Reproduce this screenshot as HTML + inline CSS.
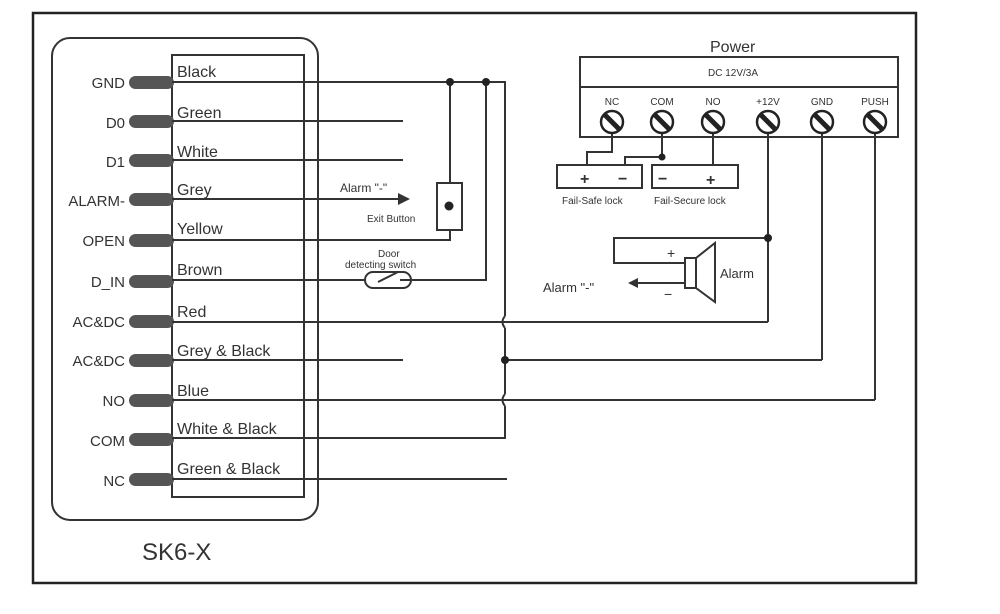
<!DOCTYPE html>
<html><head><meta charset="utf-8"><style>
html,body{margin:0;padding:0;background:#fff}
svg{display:block}
text{font-family:"Liberation Sans",Arial,sans-serif;fill:#333}
</style></head><body>
<svg width="1000" height="614" viewBox="0 0 1000 614" xmlns="http://www.w3.org/2000/svg">
<rect x="33" y="13" width="883" height="570" fill="none" stroke="#222" stroke-width="2.5"/>
<rect x="52" y="38" width="266" height="482" rx="18" fill="none" stroke="#333" stroke-width="2"/>
<rect x="172" y="55" width="132" height="442" fill="none" stroke="#333" stroke-width="2"/>
<g fill="#555">
<rect x="129" y="76" width="45" height="13" rx="6.5"/>
<rect x="129" y="115" width="45" height="13" rx="6.5"/>
<rect x="129" y="154" width="45" height="13" rx="6.5"/>
<rect x="129" y="193" width="45" height="13" rx="6.5"/>
<rect x="129" y="234" width="45" height="13" rx="6.5"/>
<rect x="129" y="275" width="45" height="13" rx="6.5"/>
<rect x="129" y="315" width="45" height="13" rx="6.5"/>
<rect x="129" y="354" width="45" height="13" rx="6.5"/>
<rect x="129" y="394" width="45" height="13" rx="6.5"/>
<rect x="129" y="433" width="45" height="13" rx="6.5"/>
<rect x="129" y="473" width="45" height="13" rx="6.5"/>
</g>
<g font-size="15" text-anchor="end">
<text x="125" y="88">GND</text>
<text x="125" y="128">D0</text>
<text x="125" y="167">D1</text>
<text x="125" y="206">ALARM-</text>
<text x="125" y="246">OPEN</text>
<text x="125" y="287">D_IN</text>
<text x="125" y="327">AC&amp;DC</text>
<text x="125" y="366">AC&amp;DC</text>
<text x="125" y="406">NO</text>
<text x="125" y="446">COM</text>
<text x="125" y="486">NC</text>
</g>
<g font-size="16">
<text x="177" y="77">Black</text>
<text x="177" y="118">Green</text>
<text x="177" y="157">White</text>
<text x="177" y="195">Grey</text>
<text x="177" y="234">Yellow</text>
<text x="177" y="275">Brown</text>
<text x="177" y="317">Red</text>
<text x="177" y="356">Grey &amp; Black</text>
<text x="177" y="396">Blue</text>
<text x="177" y="434">White &amp; Black</text>
<text x="177" y="474">Green &amp; Black</text>
</g>
<text x="142" y="560" font-size="24">SK6-X</text>
<g fill="none" stroke="#333" stroke-width="2">
<polyline points="172,82 505,82 505,316"/>
<path d="M505,316 q-5,6 0,12"/>
<polyline points="505,328 505,394"/>
<path d="M505,394 q-5,6 0,12"/>
<polyline points="505,406 505,438 172,438"/>
<line x1="172" y1="121" x2="403" y2="121"/>
<line x1="172" y1="160" x2="403" y2="160"/>
<line x1="172" y1="199" x2="398" y2="199"/>
<polyline points="172,240 450,240 450,230"/>
<rect x="437" y="183" width="25" height="47"/>
<line x1="450" y1="82" x2="450" y2="183"/>
<polyline points="172,280 365,280"/>
<polyline points="411,280 486,280 486,82"/>
<rect x="365" y="272" width="46" height="16" rx="8"/>
<polyline points="378,282 398,272"/>
<line x1="400" y1="280" x2="411" y2="280"/>
<line x1="172" y1="322" x2="768" y2="322"/>
<line x1="172" y1="360" x2="403" y2="360"/>
<line x1="505" y1="360" x2="822" y2="360"/>
<line x1="172" y1="400" x2="875" y2="400"/>
<line x1="172" y1="479" x2="507" y2="479"/>
<rect x="580" y="57" width="318" height="80"/>
<line x1="580" y1="87" x2="898" y2="87"/>
<polyline points="612,134 612,152 587,152 587,165"/>
<polyline points="662,134 662,157 625,157 625,165"/>
<polyline points="713,134 713,165"/>
<line x1="768" y1="134" x2="768" y2="322"/>
<line x1="822" y1="134" x2="822" y2="360"/>
<line x1="875" y1="134" x2="875" y2="400"/>
<rect x="557" y="165" width="85" height="23"/>
<rect x="652" y="165" width="86" height="23"/>
<polyline points="768,238 614,238 614,263 685,263"/>
<rect x="685" y="258" width="11" height="30"/>
<polygon points="696,258 715,243 715,302 696,288"/>
<line x1="685" y1="283" x2="636" y2="283"/>
</g>
<polygon points="398,193 410,199 398,205" fill="#333"/>
<polygon points="628,283 638,278 638,288" fill="#333"/>
<g fill="#222">
<circle cx="450" cy="82" r="4"/><circle cx="486" cy="82" r="4"/>
<circle cx="449" cy="206" r="4.5"/>
<circle cx="505" cy="360" r="4"/>
<circle cx="662" cy="157" r="3.5"/>
<circle cx="768" cy="238" r="4"/>
</g>
<g font-size="12">
<text x="340" y="192">Alarm "-"</text>
<text x="367" y="222" font-size="10">Exit Button</text>
<text x="378" y="257" font-size="10">Door</text>
<text x="345" y="268" font-size="10">detecting switch</text>
<text x="720" y="278" font-size="13">Alarm</text>
<text x="543" y="292" font-size="13">Alarm "-"</text>
<text x="667" y="258" font-size="14">+</text>
<text x="664" y="299" font-size="14">−</text>
</g>
<text x="710" y="52" font-size="16">Power</text>
<text x="708" y="76" font-size="10">DC 12V/3A</text>
<g font-size="10" text-anchor="middle">
<text x="612" y="105">NC</text><text x="662" y="105">COM</text><text x="713" y="105">NO</text>
<text x="768" y="105">+12V</text><text x="822" y="105">GND</text><text x="875" y="105">PUSH</text>
</g>
<g stroke="#222" fill="#fff">
<g transform="translate(612,122)"><circle r="11" stroke-width="2.5"/><line x1="-7" y1="-7" x2="7" y2="7" stroke-width="5"/></g>
<g transform="translate(662,122)"><circle r="11" stroke-width="2.5"/><line x1="-7" y1="-7" x2="7" y2="7" stroke-width="5"/></g>
<g transform="translate(713,122)"><circle r="11" stroke-width="2.5"/><line x1="-7" y1="-7" x2="7" y2="7" stroke-width="5"/></g>
<g transform="translate(768,122)"><circle r="11" stroke-width="2.5"/><line x1="-7" y1="-7" x2="7" y2="7" stroke-width="5"/></g>
<g transform="translate(822,122)"><circle r="11" stroke-width="2.5"/><line x1="-7" y1="-7" x2="7" y2="7" stroke-width="5"/></g>
<g transform="translate(875,122)"><circle r="11" stroke-width="2.5"/><line x1="-7" y1="-7" x2="7" y2="7" stroke-width="5"/></g>
</g>
<g font-size="16" font-weight="bold">
<text x="580" y="184">+</text><text x="618" y="184">−</text>
<text x="658" y="184">−</text><text x="706" y="185">+</text>
</g>
<text x="562" y="204" font-size="10">Fail-Safe lock</text>
<text x="654" y="204" font-size="10">Fail-Secure lock</text>
</svg>
</body></html>
